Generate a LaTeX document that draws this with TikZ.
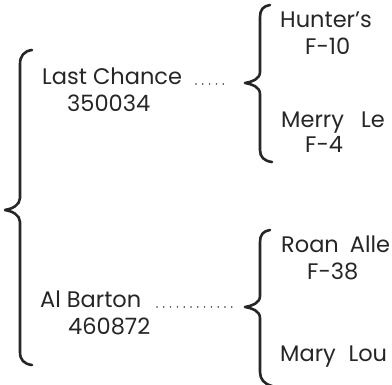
\documentclass[tikz,border=0pt]{standalone}
\usepackage{fontspec}
\setmainfont{Poppins}
\begin{document}
\begin{tikzpicture}[x=1pt,y=-1pt,
  lbl/.style={anchor=base west, inner sep=0pt, font=\fontsize{22.5}{27}\selectfont, text=black!85},
  brace/.style={line width=2.6pt, line cap=round, line join=round, draw=black!85},
  dotline/.style={line width=1.7pt, dash pattern=on 0pt off 6.8pt, line cap=round, draw=black!80}]
\useasboundingbox (0,0) rectangle (392,385);
% main brace
\coordinate (m0) at (5,210);
\draw[brace] (32,50) .. controls (24,51) and (20,56) .. (20,64) -- (20,198)
  .. controls (20,205) and (12,209) .. (m0)
  .. controls (12,211) and (20,215) .. (20,222) -- (20,352)
  .. controls (20,360) and (24,364) .. (32,365);
% upper sub-brace
\coordinate (t1) at (245,83);
\draw[brace] (270,5) .. controls (263,6) and (260,10) .. (260,17) -- (260,72)
  .. controls (260,79) and (252,82) .. (t1)
  .. controls (252,84) and (260,87) .. (260,94) -- (260,150)
  .. controls (260,157) and (264,161) .. (272,162);
% lower sub-brace
\coordinate (t2) at (245,307);
\draw[brace] (270,230) .. controls (263,231) and (260,235) .. (260,242) -- (260,296)
  .. controls (260,303) and (252,306) .. (t2)
  .. controls (252,308) and (260,311) .. (260,318) -- (260,372)
  .. controls (260,379) and (264,384) .. (272,386);
% texts
\node[lbl] (lc) at (42,85) {Last Chance};
\node[lbl] (lcn) at (67,112) {350034};
\node[lbl] (ab) at (40,308) {Al Barton};
\node[lbl] (abn) at (68,335) {460872};
\node[lbl] (hu) at (280,28) {Hunter's};
\node[lbl] (hun) at (305,55) {F-10};
\node[lbl] (ml) at (281,128) {Merry\hspace{0.5em} Le};
\node[lbl] (mln) at (305,153) {F-4};
\node[lbl] (ra) at (281,253) {Roan\hspace{0.22em} Alle};
\node[lbl] (ran) at (307,280) {F-38};
\node[lbl] (mlo) at (280,362) {Mary\hspace{0.3em} Lou};
% dotted leaders
\coordinate (d1a) at (196,84);
\coordinate (d1b) at (229,84);
\coordinate (d2a) at (157,307);
\coordinate (d2b) at (232,307);
\draw[dotline] (d1a) -- (d1b);
\draw[dotline] (d2a) -- (d2b);
\end{tikzpicture}
\end{document}
